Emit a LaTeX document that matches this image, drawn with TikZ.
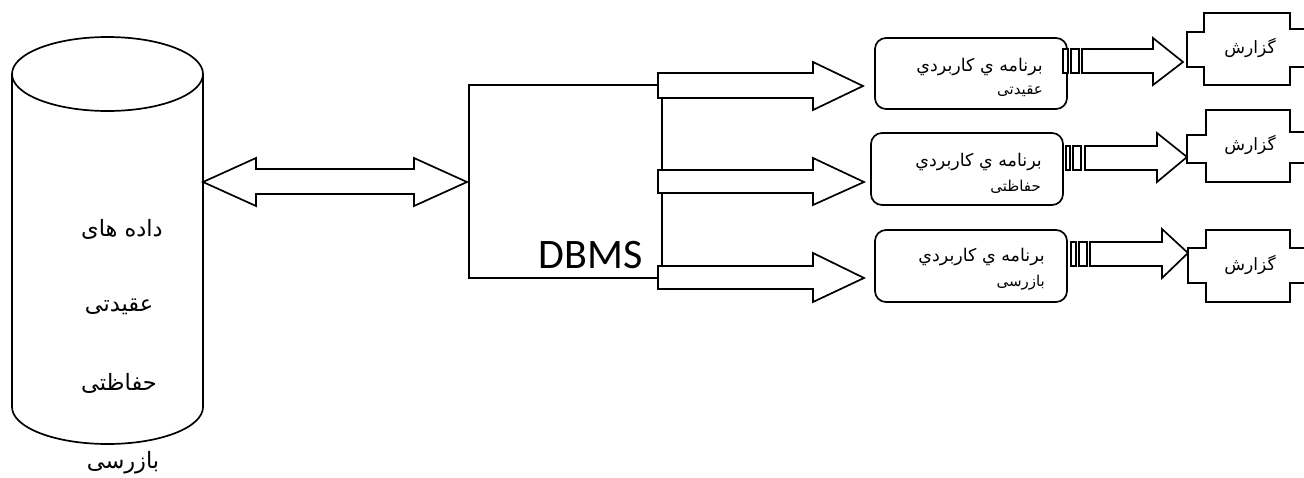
\documentclass[tikz,border=0pt]{standalone}
\usepackage{fontspec}
\TeXXeTstate=1
\newfontfamily\arfont[Script=Arabic]{DejaVu Sans}
\newfontfamily\dbfont{Carlito}
\begin{document}
\begin{tikzpicture}[x=1pt,y=-1pt,
  outline/.style={draw=black,line width=1.7pt,line join=miter},
  blockarrow/.style={outline,fill=white},
  progbox/.style={outline,rounded corners=11pt,fill=white},
  cyltext/.style={font=\arfont\fontsize{22.5}{26}\selectfont,inner sep=0pt},
  progtext/.style={font=\arfont\fontsize{17.5}{20}\selectfont,inner sep=0pt,anchor=east},
  progsub/.style={font=\arfont\fontsize{15}{17}\selectfont,inner sep=0pt,anchor=east},
  reptext/.style={font=\arfont\fontsize{17}{20}\selectfont,inner sep=0pt}]
\fill[white] (0,0) rectangle (1304,477);
\clip (0,0) rectangle (1304,477);

% database cylinder
\draw[outline] (107.5,74) ellipse [x radius=95.5, y radius=37];
\draw[outline] (12,74) -- (12,407) arc[start angle=180, end angle=0, x radius=95.5, y radius=37] -- (203,74);
\node[cyltext] (d1) at (122,229) {\beginR داده های\endR};
\node[cyltext] (d2) at (119,307) {\beginR عقیدتی\endR};
\node[cyltext] (d3) at (119,383) {\beginR حفاظتی\endR};
\node[cyltext] (d4) at (123,463) {\beginR بازرسی\endR};

% two-way arrow between the data and the DBMS
\draw[blockarrow] (203,182) -- (256,158) -- (256,169) -- (414,169) -- (414,158) -- (467,182)
  -- (414,206) -- (414,194) -- (256,194) -- (256,206) -- cycle;

% DBMS frame
\node[outline,minimum width=193pt,minimum height=193pt,inner sep=0pt] (dbms) at (565.5,181.5) {};
\node[font=\dbfont\fontsize{42}{44}\selectfont,inner sep=0pt,anchor=base east] (dbmslabel) at (643,268) {DBMS};

% arrows from the DBMS to the applications
\draw[blockarrow] (658,73) -- (813,73) -- (813,62) -- (863,86) -- (813,110) -- (813,98) -- (658,98) -- cycle;
\draw[blockarrow] (658,170) -- (813,170) -- (813,158) -- (864,182) -- (813,205) -- (813,193) -- (658,193) -- cycle;
\draw[blockarrow] (658,266) -- (813,266) -- (813,253) -- (864,278) -- (813,302) -- (813,289) -- (658,289) -- cycle;

% application programs
\node[progbox,minimum width=192pt,minimum height=71pt] (p1) at (971,73.5) {};
\node[progbox,minimum width=192pt,minimum height=72pt] (p2) at (967,169) {};
\node[progbox,minimum width=192pt,minimum height=72pt] (p3) at (971,266) {};
\node[progtext] (p1a) at (1043,67) {\beginR برنامه ي كاربردي\endR};
\node[progsub] (p1b) at (1043,91) {\beginR عقیدتی\endR};
\node[progtext] (p2a) at (1042,162) {\beginR برنامه ي كاربردي\endR};
\node[progsub] (p2b) at (1041,187) {\beginR حفاظتی\endR};
\node[progtext] (p3a) at (1045,257) {\beginR برنامه ي كاربردي\endR};
\node[progsub] (p3b) at (1045,283) {\beginR بازرسی\endR};

% striped arrows from the applications to the reports
\draw[blockarrow] (1063,49) rectangle (1068,73);
\draw[blockarrow] (1071,49) rectangle (1079,73);
\draw[blockarrow] (1082,49) -- (1153,49) -- (1153,38) -- (1183,62) -- (1153,85) -- (1153,73) -- (1082,73) -- cycle;
\draw[blockarrow] (1066,146) rectangle (1070,170);
\draw[blockarrow] (1073,146) rectangle (1081,170);
\draw[blockarrow] (1085,146) -- (1157,146) -- (1157,133) -- (1187,157) -- (1157,182) -- (1157,170) -- (1085,170) -- cycle;
\draw[blockarrow] (1071,242) rectangle (1076,266);
\draw[blockarrow] (1079,242) rectangle (1087,266);
\draw[blockarrow] (1090,242) -- (1162,242) -- (1162,229) -- (1188,253) -- (1162,278) -- (1162,266) -- (1090,266) -- cycle;

% report shapes, running past the right edge
\draw[outline] (1320,29) -- (1290,29) -- (1290,13) -- (1204,13) -- (1204,32) -- (1187,32) -- (1187,67)
  -- (1204,67) -- (1204,85) -- (1290,85) -- (1290,67) -- (1320,67);
\draw[outline] (1320,132) -- (1290,132) -- (1290,110) -- (1206,110) -- (1206,135) -- (1187,135) -- (1187,163)
  -- (1206,163) -- (1206,182) -- (1290,182) -- (1290,163) -- (1320,163);
\draw[outline] (1320,248) -- (1290,248) -- (1290,230) -- (1206,230) -- (1206,248) -- (1188,248) -- (1188,283)
  -- (1206,283) -- (1206,302) -- (1290,302) -- (1290,283) -- (1320,283);
\node[reptext] (r1) at (1250,48) {\beginR گزارش\endR};
\node[reptext] (r2) at (1250,145) {\beginR گزارش\endR};
\node[reptext] (r3) at (1250,265) {\beginR گزارش\endR};
\end{tikzpicture}
\end{document}
